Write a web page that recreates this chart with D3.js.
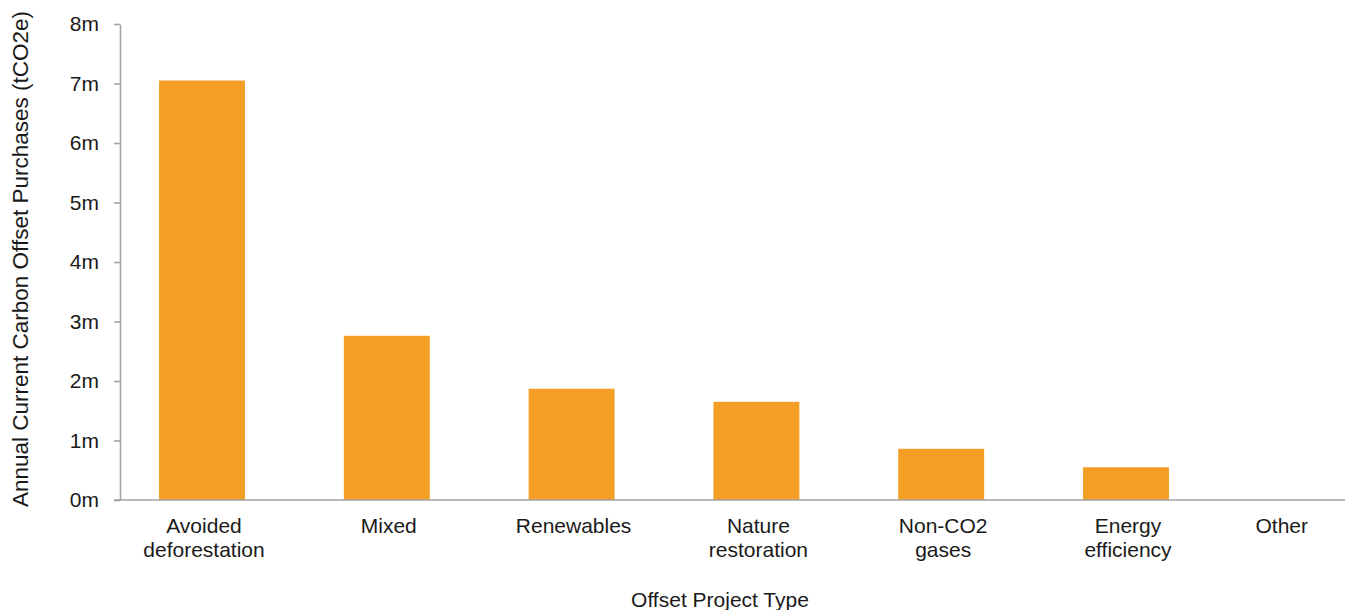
<!DOCTYPE html>
<html>
<head>
<meta charset="utf-8">
<script src="https://cdn.jsdelivr.net/npm/d3@7"></script>
<style>
  html, body { margin: 0; padding: 0; background: #fff; }
  svg { display: block; }
  text { font-family: "Liberation Sans", Arial, Helvetica, sans-serif; fill: #1a1a1a; }
</style>
</head>
<body>
<svg id="chart" width="1345" height="610"></svg>
<script>
// Offset project types and annual purchases (million tCO2e)
const categories = ["Avoided deforestation", "Mixed", "Renewables", "Nature restoration", "Non-CO2 gases", "Energy efficiency", "Other"];
const purchases = [7.05, 2.76, 1.87, 1.65, 0.86, 0.55, 0];
const yTicks = [0, 1, 2, 3, 4, 5, 6, 7, 8];
const yTitle = "Annual Current Carbon Offset Purchases (tCO2e)";
const xTitle = "Offset Project Type";

const W = 1345, H = 610;
const svg = d3.select("#chart");
const plotTop = 24, plotBottom = 500, plotLeft = 120, plotRight = 1345;
const axisColor = "#a3a3a3";
const fontSize = 21;

const y = d3.scaleLinear().domain([0, 8]).range([plotBottom, plotTop]);
const x = d3.scaleBand()
  .domain(categories)
  .range([109.6, 109.6 + 7 * 184.8])
  .paddingInner(0.535)
  .paddingOuter(0.2675);

// Bars
svg.append("g").selectAll("rect")
  .data(categories.map((c, i) => ({ c, v: purchases[i] })))
  .join("rect")
  .attr("x", d => x(d.c))
  .attr("width", x.bandwidth())
  .attr("y", d => y(d.v))
  .attr("height", d => y(0) - y(d.v))
  .attr("fill", "#f59e26");

// Y axis
const yAxis = svg.append("g")
  .attr("transform", `translate(${plotLeft},0)`)
  .call(d3.axisLeft(y).tickValues(yTicks).tickFormat(d => d + "m").tickSize(6).tickSizeOuter(0).tickPadding(15));
yAxis.selectAll("path, line").attr("stroke", axisColor).attr("stroke-width", 1.6);
yAxis.selectAll("text")
  .style("font-size", fontSize + "px")
  .attr("fill", "#1a1a1a")
  .attr("font-family", "Liberation Sans, Arial, sans-serif");

// X axis baseline
svg.append("line")
  .attr("x1", plotLeft - 6).attr("x2", plotRight)
  .attr("y1", plotBottom).attr("y2", plotBottom)
  .attr("stroke", axisColor).attr("stroke-width", 1.6);

// Category labels (two lines where the name has a space)
const labels = svg.append("g").selectAll("text")
  .data(categories)
  .join("text")
  .attr("text-anchor", "middle")
  .attr("x", d => x(d) + x.bandwidth() / 2 + 2)
  .attr("y", plotBottom + 33)
  .style("font-size", fontSize + "px");
labels.each(function (d) {
  const sp = d.indexOf(" ");
  const lines = sp > 0 ? [d.slice(0, sp), d.slice(sp + 1)] : [d];
  const t = d3.select(this);
  lines.forEach((ln, i) => {
    t.append("tspan")
      .attr("x", t.attr("x"))
      .attr("dy", i === 0 ? 0 : 24)
      .text(ln);
  });
});
// keep the last label clear of the right edge
labels.each(function () {
  const b = this.getBBox();
  const limit = W - 37;
  if (b.x + b.width > limit) {
    const shift = limit - (b.x + b.width);
    d3.select(this).attr("transform", `translate(${shift},0)`);
  }
});

// Axis titles
svg.append("text")
  .attr("text-anchor", "middle")
  .attr("x", 720).attr("y", 607)
  .style("font-size", fontSize + "px")
  .text(xTitle);

svg.append("text")
  .attr("text-anchor", "middle")
  .attr("transform", `translate(28,${(plotTop + plotBottom) / 2 - 3}) rotate(-90)`)
  .style("font-size", "22.5px")
  .text(yTitle);
</script>
</body>
</html>
